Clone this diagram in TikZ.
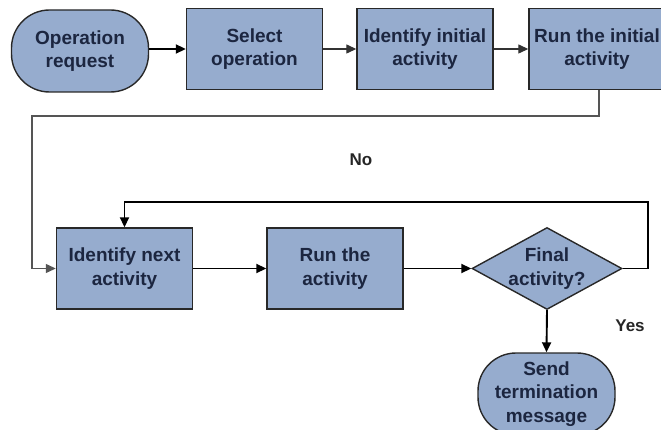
\documentclass[tikz,border=0pt]{standalone}
\usepackage{fontspec}
\setmainfont{Liberation Sans}
\usetikzlibrary{arrows.meta,shapes.geometric}
\definecolor{boxfill}{RGB}{150,172,206}
\definecolor{boxtext}{RGB}{28,38,64}
\definecolor{boxline}{RGB}{40,40,40}
\definecolor{thinline}{RGB}{85,85,85}
\tikzset{
  base/.style={draw=boxline, line width=1.4pt, fill=boxfill, text=boxtext,
    font=\fontsize{19}{23.5}\selectfont\bfseries, align=center, inner sep=0pt},
  procbox/.style={base, rectangle, minimum width=136pt, minimum height=81pt},
  termbox/.style={base, rectangle, rounded corners=38pt, minimum width=137pt, minimum height=82pt},
  decbox/.style={draw=boxline, line width=1.4pt, fill=boxfill, diamond, inner sep=0pt,
    minimum width=150pt, minimum height=82pt},
  conn/.style={draw=black, line width=1.9pt, -{Triangle[length=10pt,width=9pt]}},
  midconn/.style={draw=black!80, line width=1.3pt, -{Triangle[length=10pt,width=9pt]}},
  thinconn/.style={draw=thinline, line width=1.3pt, -{Triangle[length=10pt,width=9pt]}},
  lbl/.style={font=\fontsize{17}{20}\selectfont\bfseries, text=black!85}
}
\begin{document}
\begin{tikzpicture}[x=1pt,y=-1pt]
\useasboundingbox (0,0) rectangle (661,430);
\clip (0,0) rectangle (661,430);
% top row
\node[termbox] (req) at (80,51) {Operation\\request};
\node[procbox] (sel) at (254.5,49) {Select\\operation};
\node[procbox] (idi) at (425,49) {Identify initial\\activity};
\node[procbox] (rin) at (597,49) {Run the initial\\activity};
% second row
\node[procbox] (idn) at (124.5,268.5) {Identify next\\activity};
\node[procbox] (run) at (335,268.5) {Run the\\activity};
\node[decbox, label={[text=boxtext, font=\fontsize{19}{23.5}\selectfont\bfseries, align=center]center:Final\\activity?}] (fin) at (547,268.5) {};
\node[termbox] (trm) at (546.5,394) {Send\\termination\\message};
% labels
\node[lbl] (no) at (361,160) {No};
\node[lbl] (yes) at (630,326) {Yes};
% coordinates
\coordinate (k1) at (32,116);
\coordinate (k2) at (648,202);
% connectors
\draw[conn] (req.east |- sel.west) -- (sel.west);
\draw[midconn] (sel.east) -- (idi.west);
\draw[midconn] (idi.east) -- (rin.west);
\draw[thinconn] ([xshift=2pt]rin.south) |- (k1) |- (idn.west);
\draw[conn] (idn.east) -- (run.west);
\draw[conn] (run.east) -- (fin.west);
\draw[conn] (fin.east) -| (k2) -| (idn.north);
\draw[conn] (fin.south) -- (trm.north);
\end{tikzpicture}
\end{document}
